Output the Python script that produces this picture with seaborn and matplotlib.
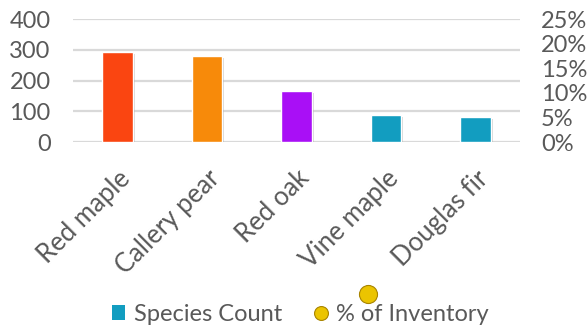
import numpy as np
import pandas as pd
import matplotlib
matplotlib.use("Agg")
import matplotlib.pyplot as plt
import matplotlib.patheffects as pe
from matplotlib.lines import Line2D
from matplotlib.patches import Rectangle
from matplotlib.ticker import FuncFormatter
import seaborn as sns

# data
species = ["Red maple", "Callery pear", "Red oak", "Vine maple", "Douglas fir"]
species_count = [293, 280, 167, 88, 81]
bar_colors = ["#FA4511", "#F78A0A", "#A90FF6", "#129DC0", "#129DC0"]
count_ticks = [0, 100, 200, 300, 400]
pct_ticks = [0, 0.05, 0.10, 0.15, 0.20, 0.25]

text_grey = "#595959"
grid_grey = "#D9D9D9"
gold = "#EBC400"
fs = 17

sns.set_style("white")
plt.rcParams["font.family"] = ["Lato", "DejaVu Sans"]

df = pd.DataFrame({"species": species, "count": species_count})

fig = plt.figure(figsize=(5.87, 3.25), dpi=100)
ax = fig.add_axes([0.124, 0.563, 0.762, 0.3785])

sns.barplot(data=df, x="species", y="count", hue="species",
            palette=bar_colors, saturation=1, width=0.34, legend=False,
            ax=ax, zorder=3)
for p in ax.patches:
    p.set_path_effects([pe.SimplePatchShadow(offset=(1.5, -1.5),
                                             shadow_rgbFace="#888888",
                                             alpha=0.35), pe.Normal()])

ax.set_xlim(-0.5, len(species) - 0.5)
ax.set_ylim(0, 400)
ax.set_yticks(count_ticks)
ax.yaxis.grid(True, color=grid_grey, linewidth=1.6, zorder=0)
ax.set_axisbelow(True)
for s in ax.spines.values():
    s.set_visible(False)
ax.set_xlabel("")
ax.set_ylabel("")
ax.tick_params(axis="y", length=0, pad=16, labelsize=fs, labelcolor=text_grey)
ax.tick_params(axis="x", length=0, pad=17, labelsize=18.5, labelcolor=text_grey)
ax.set_xticks(range(len(species)))
ax.set_xticklabels(species, rotation=45, ha="right", rotation_mode="anchor")

ax2 = ax.twinx()
ax2.set_ylim(0, 0.25)
ax2.set_yticks(pct_ticks)
ax2.yaxis.set_major_formatter(FuncFormatter(lambda v, _: "{:.0f}%".format(v * 100)))
ax2.tick_params(axis="y", length=0, pad=15, labelsize=fs, labelcolor=text_grey)
for s in ax2.spines.values():
    s.set_visible(False)

# legend
handles = [
    Rectangle((0, 0), 1, 1, facecolor="#129DC0", edgecolor="none"),
    Line2D([], [], linestyle="none", marker="o", markersize=10,
           markerfacecolor=gold, markeredgecolor="#A88400", markeredgewidth=0.8),
]
fig.legend(handles, ["Species Count", "% of Inventory"], loc="lower center",
           bbox_to_anchor=(0.512, -0.065), ncol=2, frameon=False,
           fontsize=fs, labelcolor=text_grey, handlelength=0.55,
           handleheight=0.55, handletextpad=0.35, columnspacing=1.4)

# stray sphere above the legend in the original
fig.add_artist(Line2D([368 / 587], [1 - 294 / 325], transform=fig.transFigure,
                      linestyle="none", marker="o", markersize=13,
                      markerfacecolor=gold, markeredgecolor="#A88400",
                      markeredgewidth=0.8))

fig.savefig("out.png", dpi=100)
